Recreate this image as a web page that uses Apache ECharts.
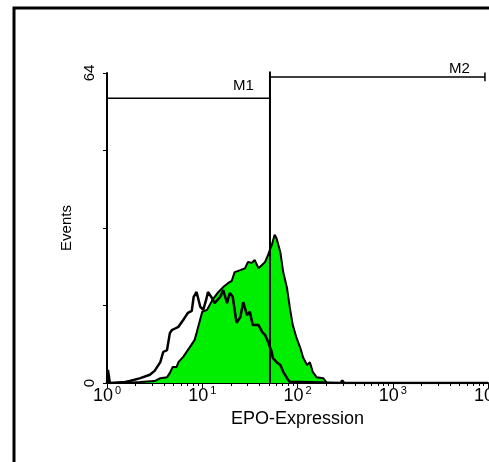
<!DOCTYPE html>
<html>
<head>
<meta charset="utf-8">
<script src="https://cdn.jsdelivr.net/npm/echarts@6/dist/echarts.min.js"></script>
<style>
  html, body { margin: 0; padding: 0; background: #fff; }
  #chart { width: 489px; height: 462px; }
</style>
</head>
<body>
<div id="chart"></div>
<script>
// x positions are log10 of the fluorescence value (decades 0..4)
const decadeTicks = [0, 1, 2, 3, 4]
const yTicks = [0, 16, 32, 48, 64]

// EPO stained sample (green, filled)
const stainedX = [0.19, 0.35, 0.50, 0.56, 0.63, 0.66, 0.69, 0.73, 0.75, 0.80, 0.82, 0.87, 0.92, 0.94, 0.96,
  1.00, 1.05, 1.10, 1.13, 1.17, 1.19, 1.22, 1.27, 1.31, 1.34, 1.40, 1.45, 1.48, 1.52, 1.55, 1.59, 1.63,
  1.66, 1.69, 1.73, 1.76, 1.78, 1.82, 1.85, 1.89, 1.92, 1.95, 1.99, 2.03, 2.06, 2.10, 2.13, 2.16, 2.20,
  2.27, 2.31]
const stainedY = [0, 0.2, 0.4, 1.0, 1.2, 2.1, 3.3, 3.3, 4.3, 5.4, 5.8, 7.4, 8.9, 10.3, 10.3,
  14.7, 15.1, 16.9, 17.8, 18.8, 18.6, 19.8, 20.6, 21.1, 22.9, 23.3, 23.7, 25.0, 24.8, 25.4, 23.7, 24.4,
  25.0, 26.4, 28.5, 30.6, 29.9, 27.0, 22.9, 19.6, 15.5, 12.0, 9.3, 7.2, 5.2, 3.7, 4.3, 2.3, 1.2,
  1.0, 0]

// isotype control (black outline)
const controlX = [0.0, 0.01, 0.03, 0.19, 0.24, 0.35, 0.45, 0.50, 0.56, 0.59, 0.63, 0.66, 0.68, 0.71, 0.75,
  0.80, 0.82, 0.85, 0.89, 0.91, 0.94, 0.98, 1.01, 1.04, 1.06, 1.10, 1.13, 1.15, 1.19, 1.22, 1.26, 1.29,
  1.32, 1.36, 1.40, 1.43, 1.47, 1.50, 1.53, 1.59, 1.63, 1.66, 1.69, 1.73, 1.74, 1.78, 1.82, 1.85, 1.89,
  1.92, 2.01, 2.03, 2.45, 2.47, 2.49, 4.0]
const controlY = [0, 2.7, 0, 0.2, 0.4, 1.0, 1.7, 2.5, 4.3, 6.4, 6.8, 10.3, 10.9, 11.2, 11.6,
  13.0, 13.6, 14.5, 14.9, 17.8, 18.8, 15.7, 15.1, 17.1, 18.8, 17.6, 16.5, 16.7, 17.8, 19.2, 16.5, 18.6,
  17.8, 12.4, 13.6, 16.7, 14.0, 14.7, 12.0, 12.0, 10.5, 9.9, 8.5, 6.4, 5.2, 4.3, 3.7, 2.3, 1.0,
  0.2, 0.2, 0, 0, 0.5, 0, 0]

// marker gates: [from, to] in decades and the level they are drawn at
const gateNames = ['M1', 'M2']
const gateFrom = [0, 1.711]
const gateTo = [1.711, 3.968]
const gateLevel = [58.8, 63.2]

// where each gate name sits relative to the gate's right end (px)
const gateLabelPos = [[-37, -20], [-36, -16]]

const minorTicks = []
for (let d = 0; d < 4; d++) {
  for (let k = 2; k <= 9; k++) minorTicks.push(d + Math.log10(k))
}

const zip = (xs, ys) => xs.map((x, i) => [x, ys[i]])
const font = 'Liberation Sans, Arial, sans-serif'

const chart = echarts.init(document.getElementById('chart'))
chart.setOption({
  animation: false,
  textStyle: { fontFamily: font },
  graphic: [{
    type: 'rect',
    shape: { x: 14, y: 8, width: 520, height: 520 },
    style: { fill: 'none', stroke: '#000', lineWidth: 3 },
    z: 100
  }],
  grid: { left: 107, right: 1, top: 73, bottom: 79, containLabel: false, outerBoundsMode: 'none' },
  xAxis: [
    {
      type: 'value',
      min: 0,
      max: 4,
      interval: 1,
      name: 'EPO-Expression',
      nameLocation: 'middle',
      nameGap: 25,
      nameTextStyle: { color: '#000', fontSize: 18, fontFamily: font },
      splitLine: { show: false },
      axisLine: { onZero: false, lineStyle: { color: '#000', width: 2 } },
      axisTick: { customValues: decadeTicks, length: 5, lineStyle: { color: '#000', width: 1 } },
      axisLabel: {
        customValues: decadeTicks,
        margin: 2,
        color: '#000',
        hideOverlap: false,
        showMaxLabel: true,
        formatter: v => '{a|10}{b|' + Math.round(v) + '}',
        rich: {
          a: { fontSize: 18, fontFamily: font, color: '#000', lineHeight: 20, verticalAlign: 'bottom' },
          b: { fontSize: 11, fontFamily: font, color: '#000', lineHeight: 20, verticalAlign: 'top', padding: [0, 0, 0, 2] }
        }
      }
    },
    {
      type: 'value',
      min: 0,
      max: 4,
      position: 'bottom',
      splitLine: { show: false },
      axisLine: { show: false },
      axisTick: { customValues: minorTicks, length: 3, lineStyle: { color: '#000', width: 1 } },
      axisLabel: { show: false }
    }
  ],
  yAxis: {
    type: 'value',
    min: 0,
    max: 64,
    interval: 16,
    name: 'Events',
    nameLocation: 'middle',
    nameGap: 26,
    nameRotate: 90,
    nameTextStyle: { color: '#000', fontSize: 15, fontFamily: font },
    splitLine: { show: false },
    axisLine: { lineStyle: { color: '#000', width: 2 } },
    axisTick: { length: 4, lineStyle: { color: '#000', width: 1 } },
    axisLabel: {
      rotate: 90,
      margin: 10,
      color: '#000',
      fontSize: 15,
      fontFamily: font,
      formatter: v => (v === yTicks[0] || v === yTicks[yTicks.length - 1]) ? String(v) : ''
    }
  },
  series: [
    {
      name: 'stained',
      type: 'line',
      data: zip(stainedX, stainedY),
      showSymbol: false,
      lineStyle: { color: '#000', width: 2 },
      areaStyle: { color: '#00ee00', opacity: 1 },
      z: 2
    },
    {
      name: 'control',
      type: 'line',
      data: zip(controlX, controlY),
      showSymbol: false,
      lineStyle: { color: '#000', width: 2.5 },
      z: 3
    },
    // gate divider running from the baseline up to M2
    {
      name: 'divider',
      type: 'line',
      clip: false,
      data: [[gateTo[0], 0], [gateTo[0], 64.3]],
      showSymbol: false,
      lineStyle: { color: '#000', width: 2 },
      z: 4
    },
    ...gateNames.map((g, i) => ({
      name: g,
      type: 'line',
      clip: false,
      showSymbol: true,
      symbol: 'circle',
      symbolSize: 0,
      lineStyle: { color: '#000', width: 1.5 },
      z: 4,
      data: [
        [gateFrom[i], gateLevel[i]],
        {
          value: [gateTo[i], gateLevel[i]],
          label: {
            show: true,
            formatter: g,
            position: gateLabelPos[i],
            color: '#000',
            fontSize: 15,
            fontFamily: font
          }
        },
        [gateTo[i], gateLevel[i] + 0.9],
        [gateTo[i], gateLevel[i] - 0.9]
      ]
    }))
  ]
})
</script>
</body>
</html>
